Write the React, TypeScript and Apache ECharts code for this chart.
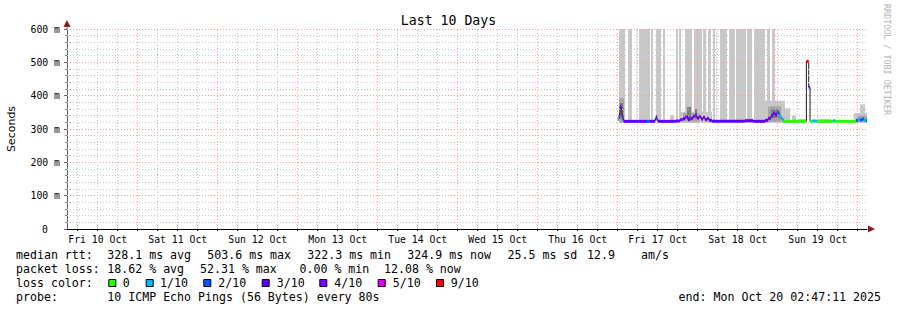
import React, { useEffect, useRef } from "react";
import * as echarts from "echarts";

// ---- data (time in hours since Fri 10 Oct 00:00) ----
const START_H = 2.786;
const END_H = 242.786;
const dayLabelHours = [12, 36, 60, 84, 108, 132, 156, 180, 204, 228];
const dayLabels = ["Fri 10 Oct", "Sat 11 Oct", "Sun 12 Oct", "Mon 13 Oct", "Tue 14 Oct", "Wed 15 Oct", "Thu 16 Oct", "Fri 17 Oct", "Sat 18 Oct", "Sun 19 Oct"];
const midnightHours = [24, 48, 72, 96, 120, 144, 168, 192, 216, 240];
const sixHourGrid = [6, 12, 18, 30, 36, 42, 54, 60, 66, 78, 84, 90, 102, 108, 114, 126, 132, 138, 150, 156, 162, 174, 180, 186, 198, 204, 210, 222, 228, 234];
const yTicks = [0, 100, 200, 300, 400, 500, 600];
const yTickLabels = ["0", "100 m", "200 m", "300 m", "400 m", "500 m", "600 m"];
const yMinorGrid = [20, 40, 60, 80, 120, 140, 160, 180, 220, 240, 260, 280, 320, 340, 360, 380, 420, 440, 460, 480, 520, 540, 560, 580];

const lossLabels = ["0", "1/10", "2/10", "3/10", "4/10", "5/10", "9/10"];
const lossColors = ["#26ff00", "#00b8ff", "#0059ff", "#5e00ff", "#7e00ff", "#dd00ff", "#ff0000"];

// tall smoke bars: [start h, end h, low ms, high ms, shade]
const tallSmoke = [
  [168.4, 170.2, 325, 600, 1], [171.1, 172.3, 325, 600, 1], [173.5, 173.8, 325, 600, 0],
  [174.4, 177.7, 325, 600, 1], [178.0, 178.6, 325, 600, 1], [179.5, 181.0, 325, 600, 1],
  [181.6, 182.2, 325, 600, 1], [185.5, 186.1, 325, 600, 1], [186.4, 187.0, 325, 600, 1],
  [188.2, 190.3, 325, 600, 1], [190.9, 193.3, 325, 600, 1], [193.6, 194.5, 325, 600, 1],
  [195.1, 196.0, 325, 600, 1], [196.6, 197.2, 325, 600, 1], [197.5, 197.8, 325, 600, 0],
  [198.7, 200.8, 325, 600, 1], [201.4, 203.2, 325, 600, 1], [203.5, 206.5, 325, 600, 1],
  [206.8, 208.3, 325, 600, 1], [208.9, 212.2, 325, 600, 1], [212.8, 213.7, 325, 600, 1],
  [214.3, 215.2, 325, 600, 1],
];
// smoke bands: [start h, end h, low ms, high ms, shade]
const smokeBands = [
  [168.4, 169.9, 318, 392, 2], [168.7, 169.6, 332, 378, 3],
  [183.7, 184.9, 318, 342, 1],
  [186.4, 196.3, 318, 352, 1], [187.6, 192.4, 322, 348, 2], [188.8, 190.0, 328, 366, 3],
  [191.2, 191.8, 330, 360, 3],
  [206.2, 208.6, 318, 332, 1],
  [212.2, 218.2, 318, 385, 1], [213.1, 217.0, 322, 368, 2], [214.0, 216.4, 333, 360, 3],
  [218.2, 219.7, 318, 362, 1], [220.3, 221.5, 318, 340, 1], [222.0, 224.5, 318, 330, 1],
  [228.1, 232.0, 318, 330, 1],
  [238.9, 242.8, 318, 348, 1], [240.7, 242.2, 340, 374, 1], [240.1, 242.8, 322, 340, 2],
];
const smokeShades = ["#e4e4e4", "#c8c8c8", "#a4a4a4", "#7c7c7c", "#5a5a5a"];

// median rtt runs: [start h, end h, median ms, loss class index]
const medianRuns = [
  [168.0, 168.4, 330, 1], [168.4, 168.7, 342, 3], [168.7, 169.0, 368, 4], [169.0, 169.3, 362, 4],
  [169.3, 169.6, 340, 3], [169.6, 169.9, 327, 3], [169.9, 176.8, 323, 3], [176.8, 177.7, 323, 2],
  [177.7, 179.2, 323, 3], [179.2, 179.5, 330, 3], [179.5, 179.8, 337, 3], [179.8, 180.1, 326, 3],
  [180.1, 185.5, 323, 3], [185.5, 186.7, 324, 3], [186.7, 187.6, 328, 4], [187.6, 188.2, 331, 3],
  [188.2, 189.1, 336, 4], [189.1, 189.7, 328, 3], [189.7, 190.6, 332, 4], [190.6, 191.2, 338, 4],
  [191.2, 191.8, 342, 4], [191.8, 192.4, 333, 3], [192.4, 193.0, 337, 4], [193.0, 193.6, 330, 3],
  [193.6, 194.2, 335, 4], [194.2, 194.8, 328, 3], [194.8, 195.4, 331, 3], [195.4, 196.3, 326, 3],
  [196.3, 206.2, 323, 3], [206.2, 208.6, 325, 3], [208.6, 212.2, 323, 3], [212.2, 213.1, 326, 3],
  [213.1, 214.0, 332, 4], [214.0, 214.6, 340, 4], [214.6, 215.2, 347, 4], [215.2, 215.8, 343, 3],
  [215.8, 216.4, 350, 2], [216.4, 217.0, 338, 1], [217.0, 217.6, 331, 1], [217.6, 224.6, 323, 0],
  [224.6, 225.3, 503, 6], [225.3, 225.7, 425, 4], [225.7, 226.3, 323, 0], [226.3, 227.8, 324, 1],
  [227.8, 232.6, 323, 0], [232.6, 233.2, 325, 1], [233.2, 239.5, 323, 0], [239.5, 240.1, 326, 2],
  [240.1, 240.7, 328, 1], [240.7, 241.3, 327, 2], [241.3, 241.9, 330, 2], [241.9, 242.5, 326, 1],
  [242.5, 242.8, 325, 2],
];

const titleText = "Last 10 Days";
const yAxisName = "Seconds";
const statsMedian = ["median rtt:", "328.1 ms avg", "503.6 ms max", "322.3 ms min", "324.9 ms now", "25.5 ms sd", "12.9", "am/s"];
const statsLoss = ["packet loss:", "18.62 % avg", "52.31 % max", "0.00 % min", "12.08 % now"];
const lossColorTitle = "loss color:";
const probeLine = ["probe:", "10 ICMP Echo Pings (56 Bytes) every 80s"];
const endText = "end: Mon Oct 20 02:47:11 2025";
const watermark = "RRDTOOL / TOBI OETIKER";

// ---- layout ----
const MONO = "'DejaVu Sans Mono', monospace";
const medianX = [16, 107.3, 207.3, 307.3, 407.3, 507.5, 587, 641];
const lossX = [16, 107.3, 200, 299.5, 384];
const boxX = [108.3, 145.7, 203.3, 261.7, 319.3, 377.7, 436];
const boxLabelX = [122.7, 160, 218.3, 276.7, 334.3, 392.7, 450.7];

const minorLine = { color: "#c4c4c4", width: 1, type: [1, 2] as any };
const majorLine = { color: "#ff9c9c", width: 1, type: [1, 2] as any };

function txt(text: string, x: number, y: number, extra: any = {}) {
  return {
    type: "text",
    x,
    y,
    silent: true,
    style: { text, fill: "#000", font: `11.6px ${MONO}`, textVerticalAlign: "middle", ...extra },
  };
}

export default function App() {
  const ref = useRef<HTMLDivElement>(null);
  useEffect(() => {
    if (!ref.current) return;
    const chart = echarts.init(ref.current, null, { renderer: "svg" });

    const medianLine: number[][] = [];
    medianRuns.forEach((r) => {
      medianLine.push([r[0], r[2]]);
      medianLine.push([r[1], r[2]]);
    });

    const rectRender = (shadeList: string[]) => (_p: any, api: any) => {
      const a = api.coord([api.value(0), api.value(3)]);
      const b = api.coord([api.value(1), api.value(2)]);
      return {
        type: "rect",
        shape: { x: a[0], y: a[1], width: b[0] - a[0], height: b[1] - a[1] },
        style: { fill: shadeList[api.value(4)] },
      };
    };

    const gridMarks: any[] = [];
    sixHourGrid.forEach((h) => gridMarks.push({ xAxis: h, lineStyle: minorLine }));
    yMinorGrid.forEach((v) => gridMarks.push({ yAxis: v, lineStyle: minorLine }));
    midnightHours.forEach((h) => gridMarks.push({ xAxis: h, lineStyle: majorLine }));
    yTicks.filter((v) => v > 0).forEach((v) => gridMarks.push({ yAxis: v, lineStyle: majorLine }));

    const graphics: any[] = [];
    statsMedian.forEach((t, i) => graphics.push(txt(t, medianX[i], 254.5)));
    statsLoss.forEach((t, i) => graphics.push(txt(t, lossX[i], 268.5)));
    graphics.push(txt(lossColorTitle, 16, 282.5));
    lossLabels.forEach((t, i) => {
      graphics.push({
        type: "rect",
        silent: true,
        shape: { x: boxX[i] + 0.5, y: 279.5, width: 7, height: 7 },
        style: { fill: lossColors[i], stroke: "#000", lineWidth: 1 },
      });
      graphics.push(txt(t, boxLabelX[i], 282.5));
    });
    graphics.push(txt(probeLine[0], 16, 296.5));
    graphics.push(txt(probeLine[1], 107.3, 296.5));
    graphics.push(txt(endText, 881, 296.5, { textAlign: "right" }));
    graphics.push({
      type: "text",
      x: 887,
      y: 4,
      rotation: -Math.PI / 2,
      silent: true,
      style: { text: watermark, fill: "#b4b4b4", font: `8.4px ${MONO}`, textVerticalAlign: "middle", textAlign: "left" },
    });
    graphics.push({
      type: "polygon",
      silent: true,
      shape: { points: [[63.5, 27], [70.5, 27], [67, 20]] },
      style: { fill: "#8a1c1c" },
    });
    graphics.push({
      type: "line",
      silent: true,
      shape: { x1: 67, y1: 26, x2: 67, y2: 29 },
      style: { stroke: "#707070", lineWidth: 1 },
    });
    graphics.push({
      type: "polygon",
      silent: true,
      shape: { points: [[868, 225.5], [868, 232.5], [875, 229]] },
      style: { fill: "#8a1c1c" },
    });

    chart.setOption({
      animation: false,
      backgroundColor: "#ffffff",
      color: ["#c8c8c8", "#a4a4a4", "#c4c4c4", "#202020", "#5e00ff"],
      title: {
        text: titleText,
        left: "center",
        top: 9,
        textStyle: { fontFamily: MONO, fontSize: 13.2, fontWeight: "normal", color: "#000" },
      },
      grid: { left: 67, top: 29, width: 800, height: 200, containLabel: false, outerBoundsMode: "none" },
      xAxis: {
        type: "value",
        min: START_H,
        max: END_H,
        axisLine: { show: true, onZero: false, lineStyle: { color: "#000", width: 1 } },
        axisTick: { show: true, length: 2, customValues: sixHourGrid.concat(midnightHours), lineStyle: { color: "#000" } },
        axisLabel: {
          show: true,
          customValues: dayLabelHours,
          margin: 5,
          fontFamily: MONO,
          fontSize: 9.8,
          color: "#000",
          formatter: (v: number) => {
            const i = dayLabelHours.findIndex((h) => Math.abs(h - v) < 0.01);
            return i >= 0 ? dayLabels[i] : "";
          },
        },
        splitLine: { show: false },
      },
      yAxis: {
        type: "value",
        min: 0,
        max: 600,
        interval: 100,
        name: yAxisName,
        nameLocation: "middle",
        nameGap: 50,
        nameRotate: 90,
        nameTextStyle: { fontFamily: "'DejaVu Sans', sans-serif", fontSize: 11, color: "#000" },
        axisLine: { show: true, lineStyle: { color: "#606060", width: 1 } },
        axisTick: { show: true, length: 3, lineStyle: { color: "#606060", width: 1 } },
        minorTick: { show: true, splitNumber: 5, length: 2, lineStyle: { color: "#808080", width: 1 } },
        axisLabel: {
          margin: 7,
          fontFamily: MONO,
          fontSize: 9.8,
          color: "#000",
          formatter: (v: number) => {
            const i = yTicks.indexOf(v);
            const s = i >= 0 ? yTickLabels[i] : "";
            return v === 0 ? "{z|" + s + "}" : s;
          },
          rich: { z: { fontFamily: MONO, fontSize: 9.8, color: "#000", padding: [0, 12, 0, 0] } },
        },
        splitLine: { show: false },
      },
      series: [
        {
          type: "custom",
          name: "tall smoke",
          z: 1,
          silent: true,
          renderItem: rectRender(smokeShades),
          encode: { x: [0, 1], y: [2, 3] },
          data: tallSmoke,
        },
        {
          type: "custom",
          name: "smoke",
          z: 2,
          silent: true,
          renderItem: rectRender(smokeShades),
          encode: { x: [0, 1], y: [2, 3] },
          data: smokeBands,
        },
        {
          type: "line",
          name: "grid",
          z: 3,
          silent: true,
          data: [],
          markLine: {
            silent: true,
            symbol: ["none", "none"],
            label: { show: false },
            animation: false,
            data: gridMarks,
          },
        },
        {
          type: "line",
          name: "median",
          z: 4,
          silent: true,
          showSymbol: false,
          symbol: "none",
          lineStyle: { color: "#202020", width: 1 },
          data: medianLine,
        },
        {
          type: "custom",
          name: "median loss",
          z: 5,
          silent: true,
          renderItem: (_p: any, api: any) => {
            const a = api.coord([api.value(0), api.value(2)]);
            const b = api.coord([api.value(1), api.value(2)]);
            return {
              type: "rect",
              shape: { x: a[0], y: a[1] - 1.5, width: b[0] - a[0], height: 3 },
              style: { fill: lossColors[api.value(3)] },
            };
          },
          encode: { x: [0, 1], y: 2 },
          data: medianRuns,
        },
      ],
      graphic: graphics,
    });
    return () => chart.dispose();
  }, []);
  return (
    <div
      ref={ref}
      style={{ position: "fixed", left: 0, top: 0, width: 897, height: 310, background: "#fff" }}
    />
  );
}
